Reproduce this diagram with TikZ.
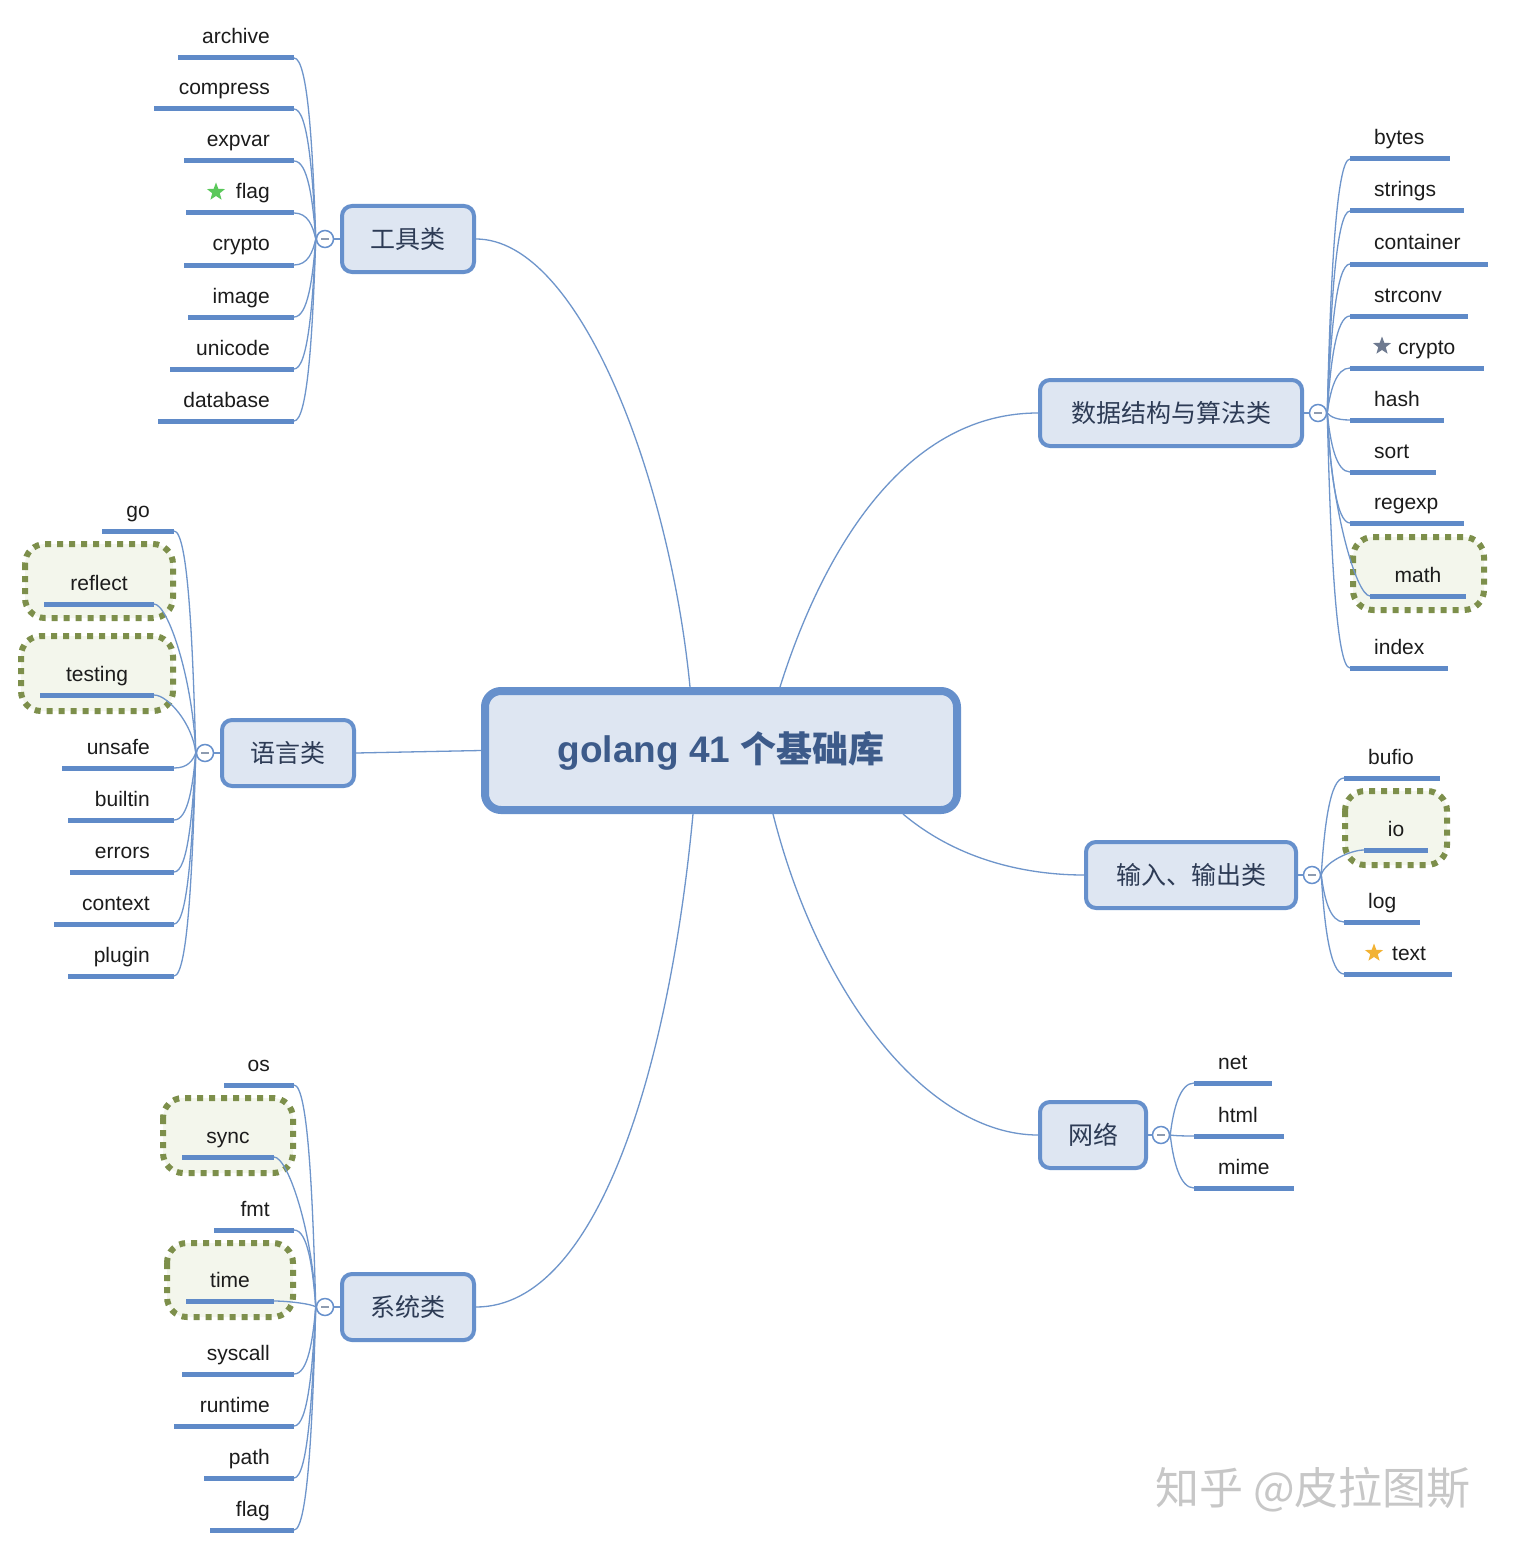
\documentclass[tikz,border=0pt]{standalone}
\usepackage{fontspec}
\setmainfont{Liberation Sans}
\newfontfamily\cjk{Noto Sans CJK SC}
\usetikzlibrary{calc,shapes.geometric}
\definecolor{bd}{HTML}{6690CC}
\definecolor{fillb}{HTML}{DEE6F2}
\definecolor{titlec}{HTML}{3D5B8A}
\definecolor{brc}{HTML}{2D3B55}
\definecolor{ulc}{HTML}{5F8AC8}
\definecolor{cnc}{HTML}{6E95CB}
\definecolor{lc}{HTML}{1C1C1C}
\definecolor{olv}{HTML}{7D8F4B}
\definecolor{hlfill}{HTML}{F3F6EC}
\definecolor{togm}{HTML}{8D9BB0}
\tikzset{
  mainbox/.style={draw=bd, line width=8pt, fill=fillb, rounded corners=16pt, minimum width=472pt, minimum height=119pt, text=titlec},
  branch/.style={draw=bd, line width=4pt, fill=fillb, rounded corners=10pt, minimum height=66pt, inner sep=0pt, font=\cjk\fontsize{25}{30}\selectfont, text=brc},
  tog/.style={circle, draw=bd, line width=1.5pt, fill=white, minimum size=17pt, inner sep=0pt},
  togmark/.style={draw=togm, line width=1.5pt},
  uline/.style={draw=ulc, line width=5pt},
  conn/.style={draw=cnc, line width=1.3pt},
  lbl/.style={inner sep=0pt, font=\fontsize{21}{25}\selectfont, text=lc},
  hl/.style={draw=olv, line width=6pt, dash pattern=on 6pt off 6pt, fill=hlfill, rounded corners=20pt},
  starmark/.style={star, star points=5, star point ratio=2.4, minimum size=19pt, inner sep=0pt, draw=none},
}
% left leaf: name, y, underline left, underline right, text right, text
\newcommand\leafL[6]{%
  \coordinate (#1a) at (#3,#2); \coordinate (#1b) at (#4,#2);
  \draw[uline] (#1a) -- (#1b);
  \node[lbl, anchor=base east] (#1t) at (#5,#2-14) {#6};}
% right leaf: name, y, underline left, underline right, text left, text
\newcommand\leafR[6]{%
  \coordinate (#1a) at (#3,#2); \coordinate (#1b) at (#4,#2);
  \draw[uline] (#1a) -- (#1b);
  \node[lbl, anchor=base west] (#1t) at (#5,#2-14) {#6};}
% centred leaf: name, y, underline left, underline right, text
\newcommand\leafC[5]{%
  \coordinate (#1a) at (#3,#2); \coordinate (#1b) at (#4,#2);
  \draw[uline] (#1a) -- (#1b);
  \node[lbl, anchor=base] (#1t) at ({(#3+#4)/2},#2-14) {#5};}
\newcommand\cnL[2]{\draw[conn] (#1) .. controls ($(#1)!0.5!(#1|-#2)+(-3,0)$) and ($(#2)+(14,0)$) .. (#2);}
\newcommand\cnR[2]{\draw[conn] (#1) .. controls ($(#1)!0.5!(#1|-#2)+(3,0)$) and ($(#2)+(-14,0)$) .. (#2);}
\begin{document}
\begin{tikzpicture}[x=1pt,y=-1pt]
\useasboundingbox (0,0) rectangle (1514,1554);
\fill[white] (0,0) rectangle (1514,1554);

% highlight boxes
\draw[hl] (25,544) rectangle (173,618);
\draw[hl] (21,636) rectangle (173,711);
\draw[hl] (163,1098) rectangle (293,1173);
\draw[hl] (167,1243) rectangle (293,1317);
\draw[hl] (1353,537) rectangle (1484,610);
\draw[hl] (1345,791) rectangle (1447,865);

% central and branch nodes
\node[mainbox] (main) at (721,750.5) {{\fontsize{37}{42}\selectfont\bfseries golang 41 }{\cjk\fontsize{36}{42}\selectfont\bfseries 个基础库}};
\node[branch, minimum width=132pt] (b1) at (408,239) {工具类};
\node[branch, minimum width=262pt] (b2) at (1171,413) {数据结构与算法类};
\node[branch, minimum width=132pt] (b3) at (288,753) {语言类};
\node[branch, minimum width=210pt] (b4) at (1191,875) {输入、输出类};
\node[branch, minimum width=106pt] (b5) at (1093,1135) {网络};
\node[branch, minimum width=132pt] (b6) at (408,1307) {系统类};

% main connectors
\draw[conn] ([xshift=-31pt]main.north) .. controls (670,480) and (580,239) .. (b1.east);
\draw[conn] ([xshift=59pt]main.north) .. controls (820,560) and (900,413) .. (b2.west);
\draw[conn] (main.west) -- (b3.east);
\draw[conn] ([xshift=182pt]main.south) .. controls (960,862) and (1030,875) .. (b4.west);
\draw[conn] ([xshift=52pt]main.south) .. controls (820,1000) and (930,1135) .. (b5.west);
\draw[conn] ([xshift=-28pt]main.south) .. controls (670,1060) and (600,1307) .. (b6.east);

% toggles
\node[tog] (t1) at (325,239) {};
\node[tog] (t2) at (1318,413) {};
\node[tog] (t3) at (205,753) {};
\node[tog] (t4) at (1312,875) {};
\node[tog] (t5) at (1161,1135) {};
\node[tog] (t6) at (325,1307) {};
\foreach \t in {t1,t2,t3,t4,t5,t6}{\draw[togmark] ([xshift=-4pt]\t.center) -- ([xshift=4pt]\t.center);}
\draw[conn] (b1.west) -- (t1.east);
\draw[conn] (b2.east) -- (t2.west);
\draw[conn] (b3.west) -- (t3.east);
\draw[conn] (b4.east) -- (t4.west);
\draw[conn] (b5.east) -- (t5.west);
\draw[conn] (b6.west) -- (t6.east);

% 工具类 leaves
\leafL{a1}{58}{178}{294}{270}{archive}
\leafL{a2}{109}{154}{294}{270}{compress}
\leafL{a3}{161}{184}{294}{270}{expvar}
\leafL{a4}{213}{186}{294}{270}{flag}
\leafL{a5}{265}{184}{294}{270}{crypto}
\leafL{a6}{317}{188}{294}{270}{image}
\leafL{a7}{369}{170}{294}{270}{unicode}
\leafL{a8}{421}{158}{294}{270}{database}
\node[starmark, fill={rgb,255:red,90;green,200;blue,90}] (s1) at (216,192) {};
\foreach \i in {1,...,8}{\cnL{t1.west}{a\i b}}

% 语言类 leaves
\leafL{c1}{531}{102}{174}{150}{go}
\leafC{c2}{604}{44}{154}{reflect}
\leafC{c3}{695}{40}{154}{testing}
\leafL{c4}{768}{62}{174}{150}{unsafe}
\leafL{c5}{820}{68}{174}{150}{builtin}
\leafL{c6}{872}{70}{174}{150}{errors}
\leafL{c7}{924}{54}{174}{150}{context}
\leafL{c8}{976}{68}{174}{150}{plugin}
\foreach \i in {1,...,8}{\cnL{t3.west}{c\i b}}

% 系统类 leaves
\leafL{e1}{1085}{224}{294}{270}{os}
\leafC{e2}{1157}{182}{274}{sync}
\leafL{e3}{1230}{214}{294}{270}{fmt}
\leafC{e4}{1301}{186}{274}{time}
\leafL{e5}{1374}{182}{294}{270}{syscall}
\leafL{e6}{1426}{174}{294}{270}{runtime}
\leafL{e7}{1478}{204}{294}{270}{path}
\leafL{e8}{1530}{210}{294}{270}{flag}
\foreach \i in {1,...,8}{\cnL{t6.west}{e\i b}}

% 数据结构与算法类 leaves
\leafR{d1}{159}{1350}{1450}{1374}{bytes}
\leafR{d2}{211}{1350}{1464}{1374}{strings}
\leafR{d3}{264}{1350}{1488}{1374}{container}
\leafR{d4}{316}{1350}{1468}{1374}{strconv}
\leafR{d5}{368}{1350}{1484}{1398}{crypto}
\leafR{d6}{420}{1350}{1444}{1374}{hash}
\leafR{d7}{472}{1350}{1436}{1374}{sort}
\leafR{d8}{523}{1350}{1464}{1374}{regexp}
\leafC{d9}{596}{1370}{1466}{math}
\leafR{d10}{668}{1350}{1448}{1374}{index}
\node[starmark, fill={rgb,255:red,110;green,122;blue,144}] (s2) at (1382,346) {};
\foreach \i in {1,...,10}{\cnR{t2.east}{d\i a}}

% 输入、输出类 leaves
\leafR{f1}{778}{1344}{1440}{1368}{bufio}
\leafC{f2}{850}{1364}{1428}{io}
\leafR{f3}{922}{1344}{1420}{1368}{log}
\leafR{f4}{974}{1344}{1452}{1392}{text}
\node[starmark, fill={rgb,255:red,242;green,178;blue,51}] (s3) at (1374,953) {};
\foreach \i in {1,...,4}{\cnR{t4.east}{f\i a}}

% 网络 leaves
\leafR{g1}{1083}{1194}{1272}{1218}{net}
\leafR{g2}{1136}{1194}{1284}{1218}{html}
\leafR{g3}{1188}{1194}{1294}{1218}{mime}
\foreach \i in {1,...,3}{\cnR{t5.east}{g\i a}}

% watermark
\node[inner sep=0pt, text=black!22, font=\cjk\fontsize{44}{50}\selectfont] (wm) at (1313,1490) {知乎 @皮拉图斯};
\end{tikzpicture}
\end{document}
